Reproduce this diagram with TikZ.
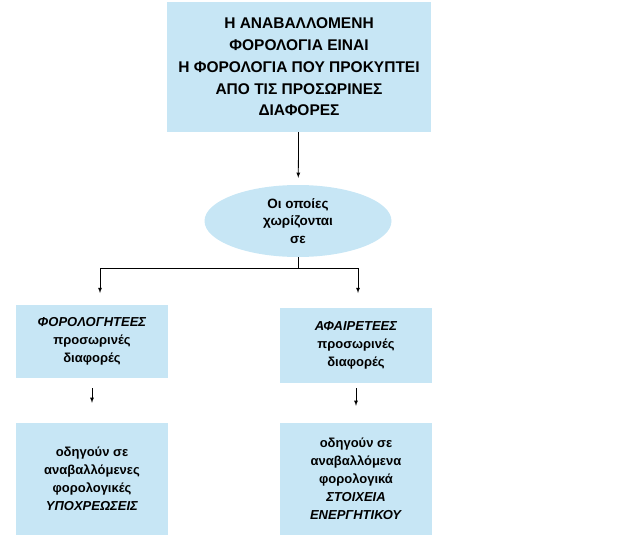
\documentclass[tikz,border=0pt]{standalone}
\usepackage{fontspec}
\setmainfont{Liberation Sans}
\usepackage{xcolor}
\usetikzlibrary{arrows,shapes.geometric,positioning}
\definecolor{boxblue}{RGB}{199,230,245}
\tikzset{
  box/.style={ % light blue box with centred bold text
    rectangle, fill=boxblue, text=black, align=center,
    inner sep=0pt, font=\bfseries\fontsize{13}{18}\selectfont,
    minimum width=152pt
  },
  topbox/.style={ % the large box at the top
    box, minimum width=264pt, minimum height=130pt,
    font=\bfseries\fontsize{15.5}{21.7}\selectfont
  },
  oval/.style={ % light blue ellipse
    ellipse, fill=boxblue, text=black, align=center, inner sep=0pt,
    minimum width=187pt, minimum height=72pt,
    font=\bfseries\fontsize{13.5}{17.5}\selectfont
  },
  link/.style={-latex, thick}
}

\begin{document}
\begin{tikzpicture}[x=1pt, y=-1pt]
  \useasboundingbox (0,0) rectangle (628,538);

  \node[topbox] (top) at (299,67)
    {Η ΑΝΑΒΑΛΛΟΜΕΝΗ\\ΦΟΡΟΛΟΓΙΑ ΕΙΝΑΙ\\Η ΦΟΡΟΛΟΓΙΑ ΠΟΥ ΠΡΟΚΥΠΤΕΙ\\ΑΠΟ ΤΙΣ ΠΡΟΣΩΡΙΝΕΣ\\ΔΙΑΦΟΡΕΣ};
  \node[oval] (split) at (298,221) {Οι οποίες\\χωρίζονται\\σε};

  \node[box, minimum height=73pt] (taxable) at (92,341.5)
    {\textit{ΦΟΡΟΛΟΓΗΤΕΕΣ}\\προσωρινές\\διαφορές};
  \node[box, minimum height=75pt] (deduct) at (356,345.5)
    {\textit{ΑΦΑΙΡΕΤΕΕΣ}\\προσωρινές\\διαφορές};
  \node[box, minimum height=112pt] (liab) at (92,479)
    {οδηγούν σε\\αναβαλλόμενες\\φορολογικές\\\textit{ΥΠΟΧΡΕΩΣΕΙΣ}};
  \node[box, minimum height=112pt] (asset) at (356,479)
    {οδηγούν σε\\αναβαλλόμενα\\φορολογικά\\\textit{ΣΤΟΙΧΕΙΑ}\\\textit{ΕΝΕΡΓΗΤΙΚΟΥ}};

  \coordinate (fork) at (298,268);
  \coordinate (ltip) at (100,293);
  \coordinate (rtip) at (358,293);

  \draw[link, shorten >=7pt] (top) -- (split);
  \draw[thick] (split.south) -- (fork);
  \draw[link] (fork) -| (ltip);
  \draw[link] (fork) -| (rtip);
  \draw[link, shorten <=10pt, shorten >=20pt] (taxable) -- (liab);
  \draw[link, shorten <=5pt, shorten >=17pt] (deduct) -- (asset);
\end{tikzpicture}
\end{document}
